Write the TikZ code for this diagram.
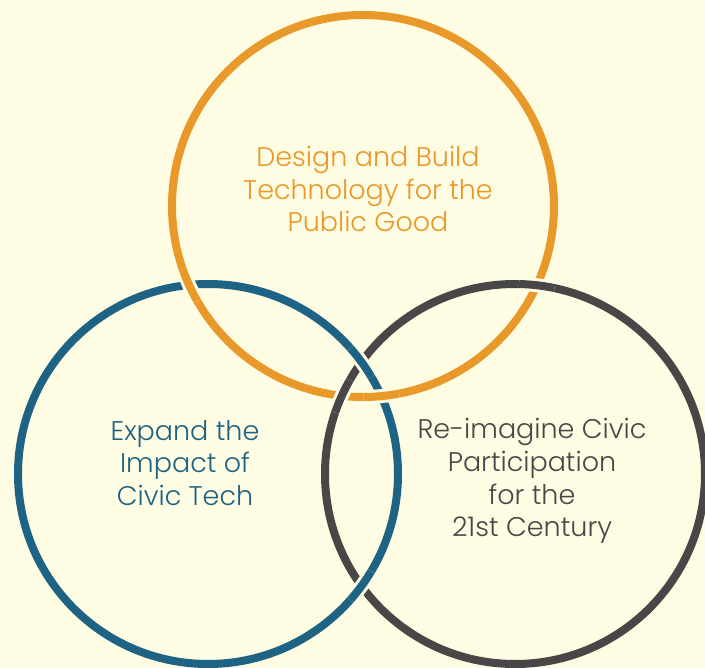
\documentclass[tikz,border=0pt]{standalone}
\usepackage{fontspec}
\setmainfont{Poppins Light}
\usepackage{tikz}
\usetikzlibrary{intersections}
\definecolor{ctorange}{RGB}{233,152,42}
\definecolor{ctblue}{RGB}{30,99,132}
\definecolor{ctgray}{RGB}{72,70,70}
\definecolor{ctcream}{RGB}{254,252,226}
\tikzstyle{ring} = [line width=8pt]
\tikzstyle{gap} = [line width=14pt, draw=ctcream]
\tikzstyle{goal} = [align=center, font=\fontsize{27}{32.8}\selectfont]

\begin{document}
\begin{tikzpicture}[x=1pt, y=-1pt]
\useasboundingbox (0,0) rectangle (705,668);
% Background
\fill[ctcream] (0,0) rectangle (705,668);

% Ring centres
\coordinate (designc) at (363,206);
\coordinate (expandc) at (208,474);
\coordinate (reimaginec) at (515,474);

% Rings
\draw[ring, ctorange, name path=designring] (designc) circle[radius=191pt];
\draw[ring, ctblue, name path=expandring] (expandc) circle[radius=190pt];
\draw[ring, ctgray, name path=reimaginering] (reimaginec) circle[radius=190pt];

% Crossings
\path[name intersections={of=designring and expandring, by={ob1,ob2}}];
\path[name intersections={of=expandring and reimaginering, by={bg1,bg2}}];
\path[name intersections={of=reimaginering and designring, by={go1,go2}}];

% Orange over blue
\foreach \pt in {ob1,ob2} {
  \begin{scope}
    \clip (\pt) circle[radius=18pt];
    \draw[gap] (designc) circle[radius=191pt];
    \draw[ring, ctorange] (designc) circle[radius=191pt];
  \end{scope}
}
% Blue over gray
\foreach \pt in {bg1,bg2} {
  \begin{scope}
    \clip (\pt) circle[radius=18pt];
    \draw[gap] (expandc) circle[radius=190pt];
    \draw[ring, ctblue] (expandc) circle[radius=190pt];
  \end{scope}
}
% Gray over orange
\foreach \pt in {go1,go2} {
  \begin{scope}
    \clip (\pt) circle[radius=18pt];
    \draw[gap] (reimaginec) circle[radius=190pt];
    \draw[ring, ctgray] (reimaginec) circle[radius=190pt];
  \end{scope}
}

% Texts
\node (design) [goal, text=ctorange] at (368,189) {Design and Build\\Technology for the\\Public Good};
\node (expand) [goal, text=ctblue] at (185,463) {Expand the\\Impact of\\Civic Tech};
\node (reimagine) [goal, text=ctgray] at (532,481) {Re-imagine Civic\\Participation\\for the\\21st Century};
\end{tikzpicture}
\end{document}
